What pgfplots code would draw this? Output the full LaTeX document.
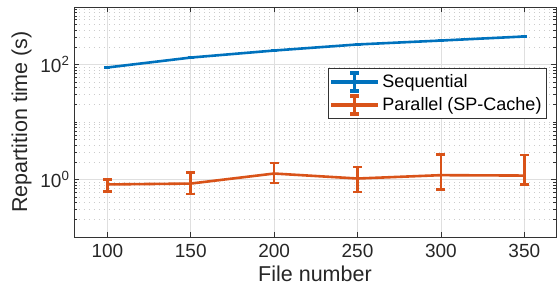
\documentclass[border=0pt]{standalone}
\usepackage{pgfplots}
\pgfplotsset{compat=1.18}
\usepackage{fontspec}
\setmainfont{Liberation Sans}
\definecolor{mblue}{rgb}{0,0.447,0.741}
\definecolor{morange}{rgb}{0.85,0.325,0.098}
\begin{document}
\begin{tikzpicture}
\path[use as bounding box] (-74pt,-58pt) rectangle (483pt,237pt);
\begin{axis}[
  at={(0pt,0pt)}, anchor=south west,
  scale only axis, width=482pt, height=230pt,
  ymode=log, xmin=80, xmax=369, ymin=0.1, ymax=1000,
  xtick={100,150,200,250,300,350},
  ytick={1,100}, yticklabels={10\textsuperscript{0},10\textsuperscript{2}},
  minor ytick={0.2,0.3,0.4,0.5,0.6,0.7,0.8,0.9,2,3,4,5,6,7,8,9,10,20,30,40,50,60,70,80,90,200,300,400,500,600,700,800,900},
  tick align=inside, tick pos=both,
  major tick length=5pt, minor tick length=3pt,
  tick style={black!80, line width=0.5pt},
  axis line style={black!80, line width=0.6pt},
  grid=both,
  major grid style={gray!25, line width=0.6pt},
  minor grid style={gray!40, line width=0.5pt, dash pattern=on 1pt off 4pt},
  xminorgrids=false, xmajorgrids=true,
  /pgf/number format/assume math mode=true,
  ticklabel style={font=\fontsize{19}{21}\selectfont, text=black!85},
  xticklabel style={yshift=-4pt},
  yticklabel style={xshift=-1pt},
  label style={font=\fontsize{21.5}{24}\selectfont, text=black!85},
  xlabel={File number}, ylabel={Repartition time (s)},
  xlabel style={yshift=-1pt},
  ylabel style={yshift=2pt},
  legend style={at={(0.981,0.735)}, anchor=north east, draw=black!80, line width=0.6pt,
    font=\fontsize{18}{21}\selectfont, row sep=2pt, column sep=3pt, inner xsep=3pt, inner ysep=3pt},
  legend cell align=left,
]
\addplot[forget plot, mblue, line width=2.6pt, error bars/.cd, y dir=both, y explicit,
  error bar style={line width=2pt}, error mark options={rotate=90, mark size=3pt, line width=2pt}]
  coordinates {
  (100,88.7) +- (0,1.5)
  (150,132) +- (0,2)
  (200,175) +- (0,2.5)
  (250,223) +- (0,3)
  (300,261) +- (0,3.5)
  (350,307) +- (0,4)
};
\addplot[forget plot, morange, line width=2.6pt, error bars/.cd, y dir=both, y explicit,
  error bar style={line width=2.6pt}, error mark options={rotate=90, mark size=4.5pt, line width=2.6pt}]
  coordinates {
  (100,0.82) += (0,0.18) -= (0,0.20)
  (150,0.85) += (0,0.47) -= (0,0.29)
  (200,1.27) += (0,0.67) -= (0,0.40)
  (250,1.04) += (0,0.62) -= (0,0.43)
  (300,1.19) += (0,1.56) -= (0,0.52)
  (350,1.17) += (0,1.51) -= (0,0.35)
};
\addlegendimage{legend image code/.code={
    \fill[mblue] (0pt,-1.3pt) rectangle (46pt,1.3pt);
    \fill[mblue] (21.8pt,-9pt) rectangle (24.2pt,9pt);
    \fill[mblue] (19pt,-10.2pt) rectangle (27pt,-7.8pt);
    \fill[mblue] (19pt,7.8pt) rectangle (27pt,10.2pt);
  }}
\addlegendimage{legend image code/.code={
    \fill[morange] (0pt,-1.3pt) rectangle (46pt,1.3pt);
    \fill[morange] (21.8pt,-9pt) rectangle (24.2pt,9pt);
    \fill[morange] (19pt,-10.2pt) rectangle (27pt,-7.8pt);
    \fill[morange] (19pt,7.8pt) rectangle (27pt,10.2pt);
  }}
\legend{Sequential,Parallel (SP-Cache)}
\end{axis}
\end{tikzpicture}
\end{document}
